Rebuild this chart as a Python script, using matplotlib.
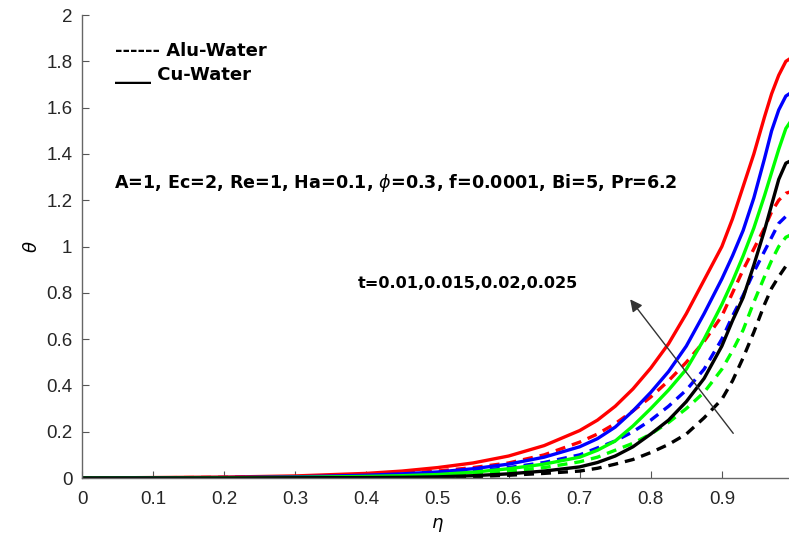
import matplotlib
matplotlib.use("Agg")
import matplotlib.pyplot as plt

plt.rcParams["font.family"] = ["Liberation Sans", "DejaVu Sans"]
plt.rcParams["mathtext.fontset"] = "dejavusans"

eta = [0.0, 0.1, 0.2, 0.3, 0.4, 0.45, 0.5, 0.55, 0.6, 0.65, 0.7, 0.725, 0.75, 0.775,
       0.8, 0.825, 0.85, 0.875, 0.9, 0.915, 0.93, 0.945, 0.96, 0.97, 0.98, 0.99, 1.0]

# Cu-Water (solid lines)
cu_red = [0.0, 0.002, 0.004, 0.009, 0.02, 0.03, 0.045, 0.065, 0.095, 0.14, 0.205, 0.25,
          0.31, 0.385, 0.475, 0.58, 0.71, 0.855, 1.0, 1.12, 1.26, 1.40, 1.56, 1.66,
          1.74, 1.80, 1.82]
cu_blue = [0.0, 0.001, 0.002, 0.005, 0.012, 0.018, 0.026, 0.04, 0.06, 0.09, 0.135, 0.17,
           0.22, 0.29, 0.37, 0.46, 0.57, 0.71, 0.86, 0.96, 1.07, 1.21, 1.38, 1.50,
           1.59, 1.65, 1.67]
cu_green = [0.0, 0.0, 0.001, 0.003, 0.007, 0.01, 0.015, 0.025, 0.04, 0.06, 0.09, 0.12,
            0.16, 0.225, 0.3, 0.38, 0.47, 0.6, 0.75, 0.85, 0.96, 1.08, 1.22, 1.32,
            1.42, 1.51, 1.555]
cu_black = [0.0, 0.0, 0.0, 0.001, 0.002, 0.003, 0.005, 0.01, 0.018, 0.03, 0.048, 0.067,
            0.095, 0.135, 0.19, 0.25, 0.33, 0.43, 0.57, 0.68, 0.78, 0.92, 1.07, 1.18,
            1.29, 1.36, 1.375]

# Alu-Water (dashed lines)
alu_red = [0.0, 0.001, 0.003, 0.006, 0.014, 0.02, 0.03, 0.045, 0.065, 0.1, 0.155, 0.19,
           0.235, 0.29, 0.35, 0.42, 0.5, 0.59, 0.7, 0.8, 0.9, 0.99, 1.08, 1.15,
           1.2, 1.23, 1.24]
alu_blue = [0.0, 0.0, 0.002, 0.004, 0.009, 0.013, 0.02, 0.03, 0.045, 0.067, 0.1, 0.13,
            0.16, 0.2, 0.25, 0.31, 0.38, 0.47, 0.6, 0.7, 0.79, 0.89, 0.98, 1.04,
            1.1, 1.13, 1.145]
alu_green = [0.0, 0.0, 0.001, 0.002, 0.005, 0.007, 0.01, 0.018, 0.03, 0.045, 0.07, 0.09,
             0.12, 0.15, 0.19, 0.24, 0.3, 0.37, 0.47, 0.55, 0.64, 0.76, 0.87, 0.94,
             1.0, 1.04, 1.055]
alu_black = [0.0, 0.0, 0.0, 0.001, 0.001, 0.002, 0.003, 0.006, 0.012, 0.02, 0.03, 0.042,
             0.06, 0.08, 0.11, 0.145, 0.19, 0.26, 0.34, 0.42, 0.52, 0.63, 0.75, 0.82,
             0.87, 0.915, 0.94]

colors = ["#ff0000", "#0000ff", "#00ff00", "#000000"]
xticks = [0, 0.1, 0.2, 0.3, 0.4, 0.5, 0.6, 0.7, 0.8, 0.9, 1]
xticklabels = ["0", "0.1", "0.2", "0.3", "0.4", "0.5", "0.6", "0.7", "0.8", "0.9", "1"]
yticks = [0, 0.2, 0.4, 0.6, 0.8, 1.0, 1.2, 1.4, 1.6, 1.8, 2.0]
yticklabels = ["0", "0.2", "0.4", "0.6", "0.8", "1", "1.2", "1.4", "1.6", "1.8", "2"]

fig = plt.figure(figsize=(7.89, 5.38), dpi=100)
ax = fig.add_axes([0.104, 0.1115, 0.901, 0.8605])

lw = 2.4
for ys, c in zip([alu_red, alu_blue, alu_green, alu_black], colors):
    ax.plot(eta, ys, color=c, lw=lw, dashes=(3.0, 2.1))
for ys, c in zip([cu_red, cu_blue, cu_green, cu_black], colors):
    ax.plot(eta, ys, color=c, lw=lw)

ax.set_xlim(0, 1)
ax.set_ylim(0, 2)
ax.set_xticks(xticks)
ax.set_xticklabels(xticklabels)
ax.set_yticks(yticks)
ax.set_yticklabels(yticklabels)
ax.tick_params(direction="in", length=5, width=0.8, colors="#555555",
               labelcolor="#262626", labelsize=13.5)
ax.tick_params(axis="x", pad=9)
ax.tick_params(axis="y", pad=7)
for s in ["top", "right"]:
    ax.spines[s].set_visible(False)
for s in ["left", "bottom"]:
    ax.spines[s].set_color("#666666")
    ax.spines[s].set_linewidth(1.0)

ax.set_xlabel(r"$\eta$", fontsize=13, labelpad=6)
ax.set_ylabel(r"$\theta$", fontsize=13, labelpad=4)

note_kw = dict(fontweight="bold", va="center", ha="left", family="DejaVu Sans")
ax.text(0.046, 1.846, "------ Alu-Water", fontsize=13, **note_kw)
ax.text(0.046, 1.741, "____ Cu-Water", fontsize=13, **note_kw)
ax.text(0.045, 1.273,
        r"A=1, Ec=2, Re=1, Ha=0.1, $\phi$=0.3, f=0.0001, Bi=5, Pr=6.2",
        fontsize=12.6, **note_kw)
ax.text(0.388, 0.841, "t=0.01,0.015,0.02,0.025", fontsize=11.6, **note_kw)

ax.annotate("", xy=(0.771, 0.772), xytext=(0.916, 0.193),
            arrowprops=dict(arrowstyle="-|>", color="#333333", lw=1.0,
                            mutation_scale=18, shrinkA=0, shrinkB=0))

fig.savefig("out.png", dpi=100)
